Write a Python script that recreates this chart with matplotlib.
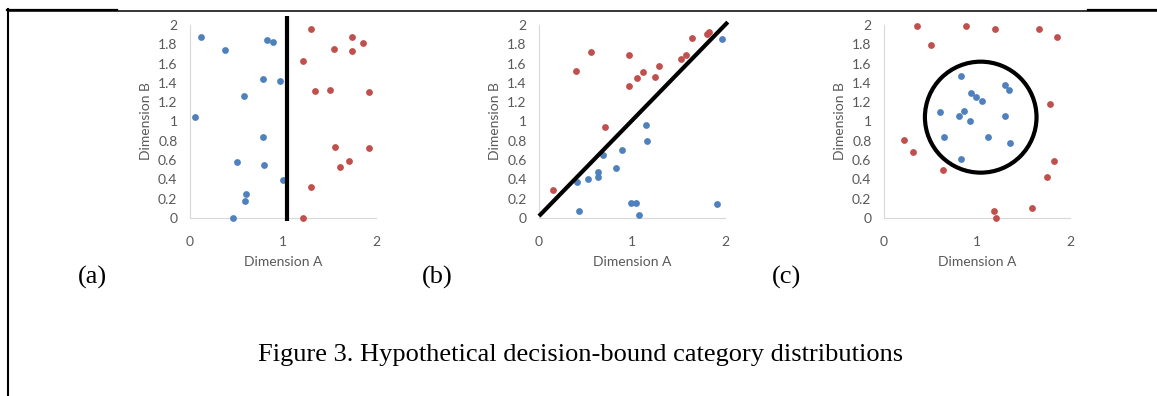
import matplotlib.pyplot as plt
from matplotlib.patches import Ellipse
from matplotlib.lines import Line2D

BLUE = '#4F81BD'
RED = '#C0504D'
GREY = '#595959'

# (a) vertical bound
a_blue_x = [0.12, 0.38, 0.83, 0.89, 0.78, 0.97, 0.58, 0.05, 0.78, 0.51, 0.80, 1.00, 0.60, 0.59, 0.46]
a_blue_y = [1.88, 1.74, 1.84, 1.82, 1.44, 1.42, 1.26, 1.05, 0.84, 0.58, 0.55, 0.39, 0.25, 0.18, 0.00]
a_red_x = [1.30, 1.74, 1.86, 1.55, 1.74, 1.21, 1.34, 1.51, 1.93, 1.56, 1.92, 1.71, 1.61, 1.30, 1.21]
a_red_y = [1.96, 1.88, 1.81, 1.75, 1.73, 1.63, 1.32, 1.33, 1.31, 0.74, 0.73, 0.59, 0.53, 0.32, 0.00]
a_bound_x = [1.04, 1.04]
a_bound_y = [-0.03, 2.09]

# (b) diagonal bound
b_blue_x = [1.97, 1.15, 1.16, 0.89, 0.69, 0.63, 0.63, 0.83, 0.53, 0.41, 0.43, 0.99, 1.04, 1.08, 1.91]
b_blue_y = [1.85, 0.96, 0.80, 0.70, 0.65, 0.48, 0.43, 0.52, 0.40, 0.37, 0.07, 0.16, 0.16, 0.03, 0.14]
b_red_x = [0.15, 0.71, 0.40, 0.56, 0.97, 0.97, 1.05, 1.12, 1.29, 1.25, 1.53, 1.58, 1.64, 1.81, 1.83]
b_red_y = [0.29, 0.94, 1.52, 1.72, 1.69, 1.37, 1.45, 1.51, 1.57, 1.46, 1.65, 1.69, 1.87, 1.91, 1.93]
b_bound_x = [0.0, 2.03]
b_bound_y = [0.02, 2.03]

# (c) circular bound
c_blue_x = [0.83, 0.94, 0.99, 1.05, 1.30, 1.34, 0.60, 0.86, 0.81, 0.93, 1.30, 0.65, 1.12, 1.36, 0.83]
c_blue_y = [1.47, 1.30, 1.25, 1.21, 1.38, 1.33, 1.10, 1.11, 1.06, 1.01, 1.06, 0.84, 0.84, 0.78, 0.61]
c_red_x = [0.35, 0.88, 1.19, 1.67, 1.86, 0.50, 1.79, 0.22, 0.31, 1.83, 0.63, 1.75, 1.59, 1.18, 1.20]
c_red_y = [1.99, 1.99, 1.96, 1.96, 1.88, 1.79, 1.18, 0.81, 0.68, 0.59, 0.50, 0.42, 0.10, 0.07, 0.00]
c_center = (1.04, 1.045)
c_width, c_height = 1.2, 1.15

ticks = [0, 1, 2]
yticks = [0, 0.2, 0.4, 0.6, 0.8, 1, 1.2, 1.4, 1.6, 1.8, 2]
ytick_labels = ['0', '0.2', '0.4', '0.6', '0.8', '1', '1.2', '1.4', '1.6', '1.8', '2']

W, H = 1157, 396
fig = plt.figure(figsize=(W / 100, H / 100), dpi=100)


def make_axes(left_px, letter, letter_x):
    ax = fig.add_axes([left_px / W, (H - 218) / H, 186 / W, 193 / H])
    ax.set_xlim(0, 2)
    ax.set_ylim(0, 2)
    for s in ['top', 'right']:
        ax.spines[s].set_visible(False)
    for s in ['left', 'bottom']:
        ax.spines[s].set_color('#D9D9D9')
        ax.spines[s].set_linewidth(0.8)
    ax.set_xticks(ticks)
    ax.set_xticklabels([str(t) for t in ticks])
    ax.set_yticks(yticks)
    ax.set_yticklabels(ytick_labels)
    ax.tick_params(length=0, labelsize=10, labelcolor=GREY, pad=9)
    ax.tick_params(axis='x', pad=13)
    for lab in ax.get_xticklabels() + ax.get_yticklabels():
        lab.set_family('Lato')
    ax.set_xlabel('Dimension A', family='Lato', fontsize=10, color=GREY, labelpad=6)
    ax.set_ylabel('Dimension B', family='Lato', fontsize=10, color=GREY, labelpad=4)
    fig.text(letter_x / W, 1 - 277 / H, letter, family='Liberation Serif',
             fontsize=19, ha='center', va='center')
    return ax


def dots(ax, bx, by, rx, ry):
    ax.scatter(bx, by, s=24, color=BLUE, linewidths=0, zorder=3, clip_on=False)
    ax.scatter(rx, ry, s=24, color=RED, linewidths=0, zorder=3, clip_on=False)


ax1 = make_axes(190, '(a)', 92)
dots(ax1, a_blue_x, a_blue_y, a_red_x, a_red_y)
ax1.plot(a_bound_x, a_bound_y, color='black', lw=3, solid_capstyle='butt', clip_on=False, zorder=4)

ax2 = make_axes(539, '(b)', 437)
dots(ax2, b_blue_x, b_blue_y, b_red_x, b_red_y)
ax2.plot(b_bound_x, b_bound_y, color='black', lw=3, solid_capstyle='butt', clip_on=False, zorder=4)

ax3 = make_axes(884, '(c)', 787)
dots(ax3, c_blue_x, c_blue_y, c_red_x, c_red_y)
ax3.add_patch(Ellipse(c_center, c_width, c_height, fill=False, ec='black', lw=3, zorder=4))

fig.text(581 / W, 1 - 355 / H, 'Figure 3. Hypothetical decision-bound category distributions',
         family='Liberation Serif', fontsize=19, ha='center', va='center')

# frame lines along the left and top edges
fig.add_artist(Line2D([8 / W, 8 / W], [0, 1 - 9 / H], color='black', lw=1.5, transform=fig.transFigure))
fig.add_artist(Line2D([8 / W, 1], [1 - 10.5 / H, 1 - 10.5 / H], color='black', lw=1.1, transform=fig.transFigure))
fig.add_artist(Line2D([7.3 / W, 117 / W], [1 - 10 / H, 1 - 10 / H], color='black', lw=1.6, transform=fig.transFigure))
fig.add_artist(Line2D([1088 / W, 1], [1 - 10 / H, 1 - 10 / H], color='black', lw=1.6, transform=fig.transFigure))

fig.savefig('out.png', dpi=100, facecolor='white')
